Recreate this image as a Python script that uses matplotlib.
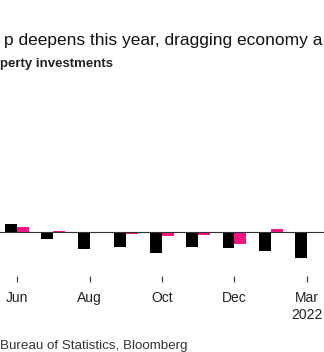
import matplotlib.pyplot as plt
import numpy as np

plt.rcParams["font.family"] = ["Liberation Sans", "DejaVu Sans"]

months = ["Jun", "Jul", "Aug", "Sep", "Oct", "Nov", "Dec", "Feb", "Mar"]
tick_labels = ["Jun", "Aug", "Oct", "Dec", "Mar\n2022"]
black_vals = [2.3, -2.0, -5.1, -4.5, -6.3, -4.5, -4.8, -5.7, -7.8]
pink_vals = [1.4, 0.3, -0.1, -0.7, -1.3, -1.0, -3.6, 0.9, -0.3]

W, H = 324, 352
fig = plt.figure(figsize=(W / 100, H / 100), dpi=100)

# axes: bottom at y=276 px, zero line at y=232 px, 1 unit = 10/3 px
px_per_unit = 10 / 3
bottom_px, zero_px, top_px = 276, 232, 90
ax = fig.add_axes([0, 1 - bottom_px / H, 1, (bottom_px - top_px) / H])
ax.set_ylim(-(bottom_px - zero_px) / px_per_unit, (zero_px - top_px) / px_per_unit)
ax.set_xlim(-0.47, 8.47)

x = np.arange(len(months))
bw = 0.325
ax.bar(x - bw / 2, black_vals, bw, color="#000000", zorder=2)
ax.bar(x + bw / 2, pink_vals, bw, color="#f5157f", zorder=2)
ax.axhline(0, color="#333333", lw=0.8, zorder=3)

for s in ax.spines.values():
    s.set_visible(False)
ax.set_yticks([])
ax.set_xticks(x[::2])
ax.set_xticklabels(tick_labels, fontsize=10, color="#222222", linespacing=1.25)
ax.tick_params(axis="x", length=4, width=0.8, color="#333333", pad=7)

fig.text(4 / W, 1 - 45 / H, "p deepens this year, dragging economy a",
         fontsize=12.5, color="#111111", ha="left", va="baseline")
fig.text(0, 1 - 67.5 / H, "perty investments", fontsize=9.5,
         fontweight="bold", color="#222222", ha="left", va="baseline")
fig.text(0, 1 - 349 / H, "Bureau of Statistics, Bloomberg", fontsize=9.6,
         color="#333333", ha="left", va="baseline")

fig.savefig("out.png", dpi=100)
